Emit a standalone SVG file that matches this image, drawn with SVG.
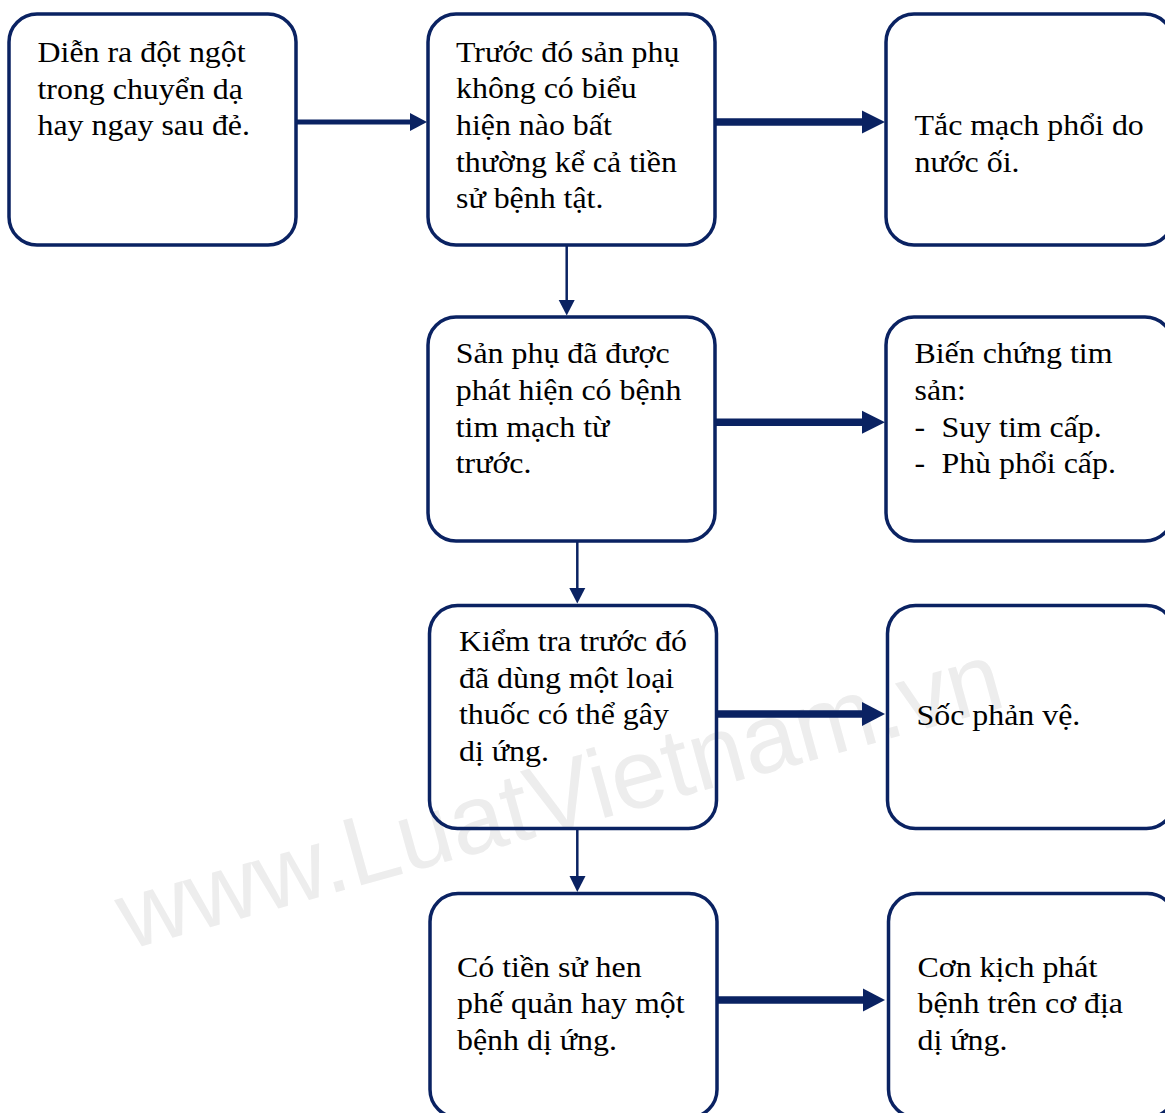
<svg xmlns="http://www.w3.org/2000/svg" width="1165" height="1113" viewBox="0 0 1165 1113">
  <style>
    .box { fill: none; stroke: #0a2262; stroke-width: 3.5; }
    .lbl { font-family: "Liberation Serif", "Times New Roman", serif; font-size: 29px; fill: #000; }
    .wire { stroke: #0a2262; fill: none; }
    .thin { stroke-width: 2.5; }
    .mid { stroke-width: 5; }
    .thick { stroke-width: 7.5; }
    .head { fill: #0a2262; stroke: none; }
    .mark { font-family: "Liberation Sans", Arial, sans-serif; font-size: 98px; fill: #ededed; }
  </style>

  <rect width="1165" height="1113" fill="#ffffff"/>

  <!-- background watermark -->
  <text class="mark" transform="translate(128,950) rotate(-15.5)">www.LuatVietnam.vn</text>

  <!-- connectors -->
  <g id="connectors">
    <line class="wire mid" x1="297" y1="122" x2="412" y2="122"/>
    <polygon class="head" points="410,113 427,122 410,131"/>

    <line class="wire thick" x1="716" y1="122" x2="864" y2="122"/>
    <polygon class="head" points="862,110.5 885,122 862,133.5"/>

    <line class="wire thin" x1="566.7" y1="245.5" x2="566.7" y2="301"/>
    <polygon class="head" points="558.7,300 574.7,300 566.7,315.5"/>

    <line class="wire thick" x1="716" y1="422.3" x2="864" y2="422.3"/>
    <polygon class="head" points="862,410.8 885,422.3 862,433.8"/>

    <line class="wire thin" x1="577.3" y1="542" x2="577.3" y2="589"/>
    <polygon class="head" points="569.3,588 585.3,588 577.3,603.5"/>

    <line class="wire thick" x1="717" y1="714" x2="864" y2="714"/>
    <polygon class="head" points="862,702 885,714 862,726"/>

    <line class="wire thin" x1="577.3" y1="830" x2="577.3" y2="877"/>
    <polygon class="head" points="569.5,876 585.5,876 577.3,892"/>

    <line class="wire thick" x1="718" y1="1000" x2="865" y2="1000"/>
    <polygon class="head" points="863,988.5 885,1000 863,1011.5"/>
  </g>

  <!-- nodes -->
  <g id="n-onset">
    <rect class="box" x="9" y="14" width="287" height="231" rx="28"/>
    <text class="lbl" transform="matrix(1.1,0,0,1,37.5,0)">
      <tspan x="0" y="62">Diễn ra đột ngột</tspan>
      <tspan x="0" y="98.7">trong chuyển dạ</tspan>
      <tspan x="0" y="135.3">hay ngay sau đẻ.</tspan>
    </text>
  </g>

  <g id="n-no-history">
    <rect class="box" x="428" y="14" width="287" height="231" rx="28"/>
    <text class="lbl" transform="matrix(1.1,0,0,1,456,0)">
      <tspan x="0" y="61.7">Trước đó sản phụ</tspan>
      <tspan x="0" y="98.3">không có biểu</tspan>
      <tspan x="0" y="135">hiện nào bất</tspan>
      <tspan x="0" y="171.7">thường kể cả tiền</tspan>
      <tspan x="0" y="208.3">sử bệnh tật.</tspan>
    </text>
  </g>

  <g id="n-embolism">
    <rect class="box" x="886" y="14" width="287" height="231" rx="28"/>
    <text class="lbl" transform="matrix(1.1,0,0,1,914.5,0)">
      <tspan x="0" y="135">Tắc mạch phổi do</tspan>
      <tspan x="0" y="171.7">nước ối.</tspan>
    </text>
  </g>

  <g id="n-heart-history">
    <rect class="box" x="428" y="317" width="287" height="224" rx="28"/>
    <text class="lbl" transform="matrix(1.1,0,0,1,455.7,0)">
      <tspan x="0" y="363.3">Sản phụ đã được</tspan>
      <tspan x="0" y="400">phát hiện có bệnh</tspan>
      <tspan x="0" y="436.7">tim mạch từ</tspan>
      <tspan x="0" y="473.3">trước.</tspan>
    </text>
  </g>

  <g id="n-heart-complication">
    <rect class="box" x="886" y="317" width="287" height="224" rx="28"/>
    <text class="lbl" transform="matrix(1.1,0,0,1,914.5,0)">
      <tspan x="0" y="363.3">Biến chứng tim</tspan>
      <tspan x="0" y="400">sản:</tspan>
      <tspan x="0" y="436.7">-</tspan><tspan x="24.5" y="436.7">Suy tim cấp.</tspan>
      <tspan x="0" y="473.3">-</tspan><tspan x="24.5" y="473.3">Phù phổi cấp.</tspan>
    </text>
  </g>

  <g id="n-drug">
    <rect class="box" x="429.5" y="605.5" width="287" height="223" rx="28"/>
    <text class="lbl" transform="matrix(1.1,0,0,1,459,0)">
      <tspan x="0" y="651">Kiểm tra trước đó</tspan>
      <tspan x="0" y="687.7">đã dùng một loại</tspan>
      <tspan x="0" y="724.3">thuốc có thể gây</tspan>
      <tspan x="0" y="761">dị ứng.</tspan>
    </text>
  </g>

  <g id="n-anaphylaxis">
    <rect class="box" x="887.5" y="605.5" width="287" height="223" rx="28"/>
    <text class="lbl" transform="matrix(1.1,0,0,1,916.5,0)">
      <tspan x="0" y="725">Sốc phản vệ.</tspan>
    </text>
  </g>

  <g id="n-asthma">
    <rect class="box" x="430" y="893.5" width="287" height="224" rx="28"/>
    <text class="lbl" transform="matrix(1.1,0,0,1,457,0)">
      <tspan x="0" y="976.7">Có tiền sử hen</tspan>
      <tspan x="0" y="1013.3">phế quản hay một</tspan>
      <tspan x="0" y="1050">bệnh dị ứng.</tspan>
    </text>
  </g>

  <g id="n-allergic-attack">
    <rect class="box" x="888.5" y="893.5" width="287" height="224" rx="28"/>
    <text class="lbl" transform="matrix(1.1,0,0,1,917.5,0)">
      <tspan x="0" y="976.7">Cơn kịch phát</tspan>
      <tspan x="0" y="1013.3">bệnh trên cơ địa</tspan>
      <tspan x="0" y="1050">dị ứng.</tspan>
    </text>
  </g>
</svg>
